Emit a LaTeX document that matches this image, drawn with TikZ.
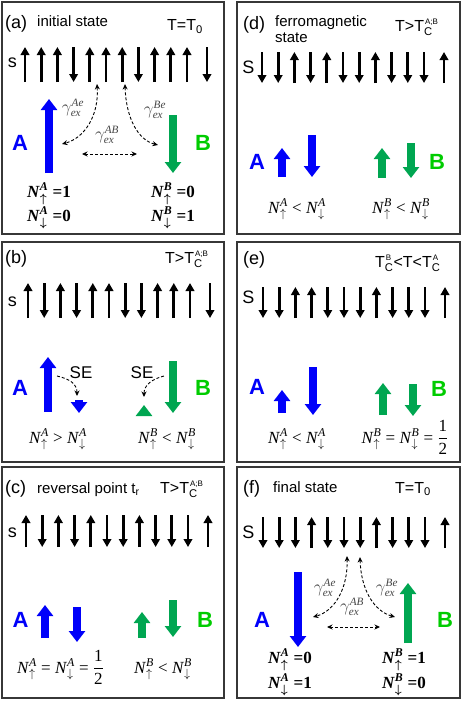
\documentclass[tikz,border=0pt]{standalone}
\usepackage{fontspec}
\setmainfont{Liberation Sans}
\newfontfamily\occfont{Liberation Serif}
\usepackage{amsmath}
\usetikzlibrary{arrows.meta}
\definecolor{SpinBlue}{RGB}{0,0,250}
\definecolor{SpinGreen}{RGB}{0,166,81}
\definecolor{LabelGreen}{RGB}{0,204,0}
\definecolor{FrameGray}{RGB}{55,55,55}
\definecolor{GammaGray}{RGB}{70,70,70}

\tikzset{
  panel/.style={draw=FrameGray, line width=1.3pt},
  spin/.style={line width=2.8pt, -{Triangle[length=8pt,width=8.5pt]}},
  moment/.style={line width=7.5pt, -{Triangle[length=11pt,width=16pt]}},
  exchange/.style={densely dashed, line width=0.9pt,
    {Stealth[length=5.5pt,width=5pt]}-{Stealth[length=5.5pt,width=5pt]}},
  transfer/.style={densely dashed, line width=0.9pt, -{Stealth[length=5.5pt,width=5pt]}},
  tag/.style={anchor=base west, inner sep=0pt, font=\fontsize{18}{20}\selectfont},
  title/.style={anchor=base west, inner sep=0pt, font=\fontsize{15}{18}\selectfont},
  temp/.style={anchor=base west, inner sep=0pt, font=\fontsize{16}{18}\selectfont},
  spinlbl/.style={inner sep=0pt, font=\fontsize{18}{20}\selectfont},
  lblA/.style={inner sep=0pt, text=SpinBlue, font=\fontsize{22}{24}\selectfont\bfseries},
  lblB/.style={inner sep=0pt, text=LabelGreen, font=\fontsize{22}{24}\selectfont\bfseries},
  occ/.style={anchor=base, inner sep=0pt, font=\fontsize{17}{19}\selectfont\occfont},
  occb/.style={anchor=base west, inner sep=0pt, font=\fontsize{17}{19}\selectfont\occfont\bfseries\boldmath},
  gam/.style={inner sep=0pt, text=GammaGray, font=\fontsize{16}{18}\selectfont\occfont},
  se/.style={inner sep=0pt, font=\fontsize{17}{20}\selectfont}
}

% T_C with a stacked superscript
\newcommand{\TC}[1]{T$_{\text{C}}^{\scriptscriptstyle\kern1pt\text{#1}}$}
% occupation numbers
\newcommand{\Nup}[1]{\textit{N}$^{\text{\itshape #1}}_{\uparrow}$}
\newcommand{\Ndn}[1]{\textit{N}$^{\text{\itshape #1}}_{\downarrow}$}
\newcommand{\half}{$\dfrac{\text{1}}{\text{2}}$}
\newcommand{\gex}[1]{$\gamma_{\text{\itshape ex}}^{\text{\itshape #1}}$}

% one row of twelve spins: x of first, top, bottom, signs (1 up, -1 down)
\newcommand{\spinrow}[4]{%
  \foreach \sgn [count=\k from 0] in {#4} {
    \pgfmathsetmacro{\xs}{#1+16.2*\k+3.8*(\k>10)}
    \pgfmathsetmacro{\ya}{0.5*(#2+#3)+(\sgn)*0.5*(#3-#2)}
    \pgfmathsetmacro{\yb}{0.5*(#2+#3)-(\sgn)*0.5*(#3-#2)}
    \draw[spin] (\xs,\ya) -- (\xs,\yb);
  }}

\begin{document}
\begin{tikzpicture}[x=1pt, y=-1pt]
\useasboundingbox (0,0) rectangle (463,702);

% frames
\draw[panel] (2,2) rectangle (224,234);
\draw[panel] (237,2) rectangle (460,234);
\draw[panel] (2,242) rectangle (224,462);
\draw[panel] (237,242) rectangle (460,462);
\draw[panel] (2,467) rectangle (224,698);
\draw[panel] (237,467) rectangle (460,698);

% (a) initial state
\node[tag] (tagA) at (5,28) {(a)};
\node[title] (titleA) at (37,26) {initial state};
\node[temp] (tempA) at (167,30.5) {T=T$_{\text{0}}$};
\node[spinlbl] (sA) at (12.5,63) {s};
\spinrow{25}{47}{82}{1,1,1,-1,1,1,1,-1,1,1,1,-1}
\draw[moment, SpinBlue] (49,173) -- (49,99);
\draw[moment, SpinGreen] (173,115) -- (173,173);
\node[lblA] (labAa) at (20,143) {A};
\node[lblB] (labBa) at (203,143) {B};
\coordinate (aEl) at (97,84);
\coordinate (aEr) at (125,84);
\coordinate (aA) at (62,144);
\coordinate (aB) at (158,145);
\coordinate (aHl) at (82,154);
\coordinate (aHr) at (137,154);
\draw[exchange] (aEl) .. controls (99,115) and (85,138) .. (aA);
\draw[exchange] (aEr) .. controls (126,118) and (138,140) .. (aB);
\draw[exchange] (aHl) -- (aHr);
\node[gam] (gAeA) at (73,108) {\gex{Ae}};
\node[gam] (gBeA) at (155,110) {\gex{Be}};
\node[gam] (gABa) at (107,135) {\gex{AB}};
\node[occb] (nUpAa) at (27,197) {\Nup{A} =1};
\node[occb] (nDnAa) at (27,221) {\Ndn{A} =0};
\node[occb] (nUpBa) at (151,197) {\Nup{B} =0};
\node[occb] (nDnBa) at (151,221) {\Ndn{B} =1};

% (d) ferromagnetic state
\node[tag] (tagD) at (243,29) {(d)};
\node[title] (titleD) at (275,26) {ferromagnetic};
\node[title] (titleD2) at (275,42) {state};
\node[temp] (tempD) at (395,31) {T>\TC{A;B}};
\node[spinlbl] (sD) at (248.5,67) {S};
\spinrow{262}{52}{83}{-1,-1,1,-1,1,-1,-1,1,-1,-1,-1,1}
\draw[moment, SpinBlue] (282,177) -- (282,148);
\draw[moment, SpinBlue] (312,135) -- (312,177);
\draw[moment, SpinGreen] (382,178) -- (382,148);
\draw[moment, SpinGreen] (411,143) -- (411,178);
\node[lblA] (labAd) at (257,162) {A};
\node[lblB] (labBd) at (437,162) {B};
\node[occ] (nAd) at (297,213) {\Nup{A} < \Ndn{A}};
\node[occ] (nBd) at (401,213) {\Nup{B} < \Ndn{B}};

% (b)
\node[tag] (tagB) at (5,263) {(b)};
\node[temp] (tempB) at (165,263) {T>\TC{A;B}};
\node[spinlbl] (sB) at (12.5,302) {s};
\spinrow{28}{283}{318}{1,-1,1,-1,1,1,-1,-1,1,1,1,-1}
\draw[moment, SpinBlue] (48,412) -- (48,357);
\draw[moment, SpinBlue] (79,400) -- (79,413);
\draw[moment, SpinGreen] (144,413) -- (144,405);
\draw[moment, SpinGreen] (173,361) -- (173,413);
\node[lblA] (labAb) at (20,388) {A};
\node[lblB] (labBb) at (203,388) {B};
\node[se] (seA) at (81,373) {SE};
\node[se] (seB) at (142,373) {SE};
\coordinate (bSl) at (57,376);
\coordinate (bDn) at (77,396);
\coordinate (bSr) at (164,376);
\coordinate (bUp) at (144,397);
\draw[transfer] (bSl) .. controls (70,379) and (77,384) .. (bDn);
\draw[transfer] (bSr) .. controls (152,379) and (144,385) .. (bUp);
\node[occ] (nAb) at (58,443) {\Nup{A} > \Ndn{A}};
\node[occ] (nBb) at (167,443) {\Nup{B} < \Ndn{B}};

% (e)
\node[tag] (tagE) at (243,264) {(e)};
\node[temp] (tempE) at (375,267) {\TC{B}<T<\TC{A}};
\node[spinlbl] (sE) at (248.5,297) {S};
\spinrow{263}{287}{318}{-1,-1,1,1,-1,-1,-1,1,-1,-1,-1,1}
\draw[moment, SpinBlue] (282,413) -- (282,390);
\draw[moment, SpinBlue] (313,367) -- (313,415);
\draw[moment, SpinGreen] (383,415) -- (383,383);
\draw[moment, SpinGreen] (413,384) -- (413,416);
\node[lblA] (labAe) at (257,387) {A};
\node[lblB] (labBe) at (439,389) {B};
\node[occ] (nAe) at (297,443) {\Nup{A} < \Ndn{A}};
\node[occ] (nBe) at (405,443) {\Nup{B} = \Ndn{B} = \half};

% (c) reversal point
\node[tag] (tagC) at (5,493) {(c)};
\node[title] (titleC) at (37,493) {reversal point t$_{\text{r}}$};
\node[temp] (tempC) at (160,493) {T>\TC{A;B}};
\node[spinlbl] (sC) at (12.5,533) {s};
\spinrow{26}{515}{547}{1,-1,1,-1,1,-1,-1,1,-1,-1,-1,1}
\draw[moment, SpinBlue] (45,638) -- (45,605);
\draw[moment, SpinBlue] (77,607) -- (77,642);
\draw[moment, SpinGreen] (142,638) -- (142,612);
\draw[moment, SpinGreen] (173,600) -- (173,637);
\node[lblA] (labAc) at (20.5,620) {A};
\node[lblB] (labBc) at (205,620) {B};
\node[occ] (nAc) at (60.5,673) {\Nup{A} = \Ndn{A} = \half};
\node[occ] (nBc) at (163,673) {\Nup{B} < \Ndn{B}};

% (f) final state
\node[tag] (tagF) at (243,493) {(f)};
\node[title] (titleF) at (273,492) {final state};
\node[temp] (tempF) at (395,493) {T=T$_{\text{0}}$};
\node[spinlbl] (sF) at (248.5,532) {S};
\spinrow{263}{517}{548}{-1,-1,-1,1,-1,-1,-1,1,-1,-1,-1,1}
\draw[moment, SpinBlue] (298,572) -- (298,647);
\draw[moment, SpinGreen] (408,643) -- (408,583);
\node[lblA] (labAf) at (262,620) {A};
\node[lblB] (labBf) at (445,620) {B};
\coordinate (fEl) at (347,556);
\coordinate (fEr) at (360,557);
\coordinate (fA) at (313,617);
\coordinate (fB) at (395,617);
\coordinate (fHl) at (327,627);
\coordinate (fHr) at (380,627);
\draw[exchange] (fEl) .. controls (348,588) and (335,611) .. (fA);
\draw[exchange] (fEr) .. controls (361,590) and (374,611) .. (fB);
\draw[exchange] (fHl) -- (fHr);
\node[gam] (gAeF) at (325,588) {\gex{Ae}};
\node[gam] (gBeF) at (387,588) {\gex{Be}};
\node[gam] (gABf) at (352,607) {\gex{AB}};
\node[occb] (nUpAf) at (268,663) {\Nup{A} =0};
\node[occb] (nDnAf) at (268,688) {\Ndn{A} =1};
\node[occb] (nUpBf) at (382,663) {\Nup{B} =1};
\node[occb] (nDnBf) at (382,688) {\Ndn{B} =0};
\end{tikzpicture}
\end{document}
